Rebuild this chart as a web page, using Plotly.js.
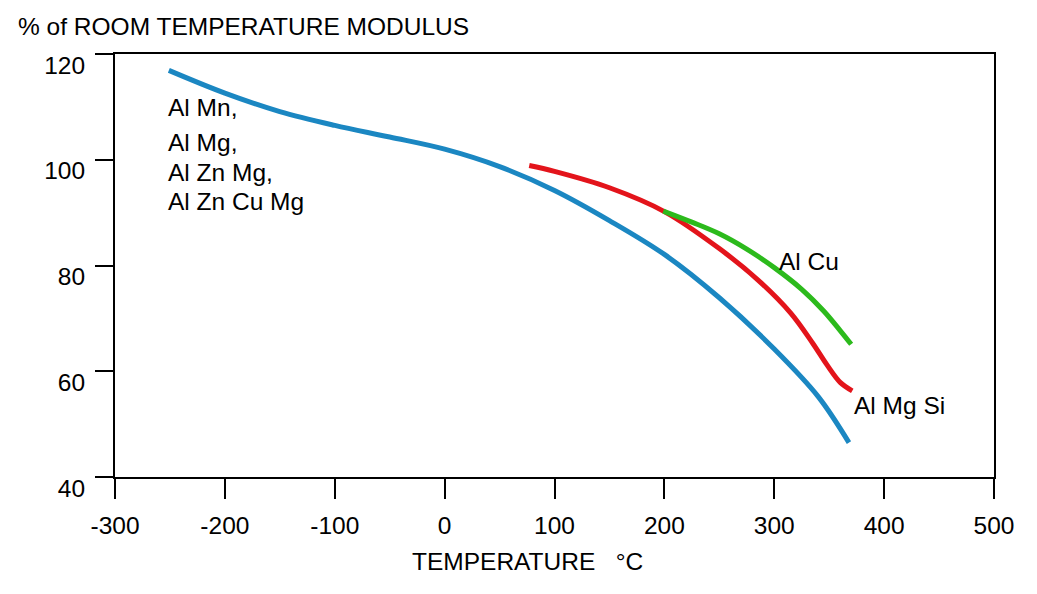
<!DOCTYPE html>
<html>
<head>
<meta charset="utf-8">
<script src="https://cdn.plot.ly/plotly-3.0.1.min.js"></script>
<style>html,body{margin:0;padding:0;background:#fff;}#chart{width:1037px;height:594px;}</style>
</head>
<body>
<div id="chart"></div>
<script>
// Data
var blueTemp = [-251, -200, -150, -100, -50, 0, 50, 100, 150, 200, 250, 300, 340, 368];
var blueModulus = [116.9, 112.6, 109.1, 106.5, 104.3, 102.0, 98.7, 94.2, 88.5, 82.1, 73.9, 64.2, 55.2, 46.5];

var redTemp = [77, 100, 150, 200, 250, 285, 315, 335, 348, 360, 371];
var redModulus = [98.9, 97.8, 94.7, 90.2, 83.2, 77.3, 71.0, 65.3, 61.2, 57.9, 56.3];

var greenTemp = [199, 225, 250, 275, 300, 325, 345, 360, 370];
var greenModulus = [90.3, 88.2, 86.0, 83.1, 79.6, 75.5, 71.4, 67.7, 65.1];

var xTicks = [-300, -200, -100, 0, 100, 200, 300, 400, 500];
var yTicks = [40, 60, 80, 100, 120];

var blueLabels = ["Al Mn,", "Al Mg,", "Al Zn Mg,", "Al Zn Cu Mg"];
var blueLabelY = [109.9, 103.3, 97.6, 92.1];

var FONT = "Liberation Sans, Arial, sans-serif";
var FS = 24.5;

var traces = [
  {x: blueTemp, y: blueModulus, mode: "lines", line: {color: "#1b87c2", width: 5, shape: "spline", smoothing: 1}, hoverinfo: "skip"},
  {x: redTemp, y: redModulus, mode: "lines", line: {color: "#e3141b", width: 5, shape: "spline", smoothing: 1}, hoverinfo: "skip"},
  {x: greenTemp, y: greenModulus, mode: "lines", line: {color: "#2cba1c", width: 5, shape: "spline", smoothing: 1}, hoverinfo: "skip"}
];

var annotations = [];
blueLabels.forEach(function (t, i) {
  annotations.push({x: -253.2, y: blueLabelY[i], xref: "x", yref: "y", text: t, showarrow: false,
    xanchor: "left", yanchor: "middle", font: {family: FONT, size: FS, color: "#000"}});
});
annotations.push({x: 302.9, y: 80.8, xref: "x", yref: "y", text: "Al Cu", showarrow: false,
  xanchor: "left", yanchor: "middle", font: {family: FONT, size: FS, color: "#000"}});
annotations.push({x: 371, y: 53.6, xref: "x", yref: "y", text: "Al Mg Si", showarrow: false,
  xanchor: "left", yanchor: "middle", font: {family: FONT, size: FS, color: "#000"}});
annotations.push({x: -0.113, y: 1.066, xref: "paper", yref: "paper", text: "% of ROOM TEMPERATURE MODULUS",
  showarrow: false, xanchor: "left", yanchor: "middle", font: {family: FONT, size: FS, color: "#000"}});
annotations.push({x: 0.336, y: -0.2, xref: "paper", yref: "paper", text: "TEMPERATURE   °C",
  showarrow: false, xanchor: "left", yanchor: "middle", font: {family: FONT, size: FS, color: "#000"}});

var layout = {
  width: 1037, height: 594,
  margin: {l: 115, r: 43, t: 54, b: 117, pad: 0},
  paper_bgcolor: "#fff", plot_bgcolor: "#fff",
  showlegend: false,
  font: {family: FONT, size: FS, color: "#000"},
  xaxis: {
    range: [-300, 500], tickmode: "array", tickvals: xTicks, ticktext: xTicks.map(String),
    ticks: "outside", ticklen: 20, tickwidth: 2, tickcolor: "#000",
    showline: true, linecolor: "#000", linewidth: 2, mirror: true,
    showgrid: false, zeroline: false, fixedrange: true,
    tickfont: {family: FONT, size: FS, color: "#000"}, ticklabelstandoff: 6
  },
  yaxis: {
    range: [40, 120], tickmode: "array", tickvals: yTicks, ticktext: yTicks.map(String),
    ticks: "outside", ticklen: 18, tickwidth: 2, tickcolor: "#000",
    showline: true, linecolor: "#000", linewidth: 2, mirror: true,
    showgrid: false, zeroline: false, fixedrange: true,
    tickfont: {family: FONT, size: FS, color: "#000"}, ticklabelstandoff: 5, ticklabelshift: 11
  },
  annotations: annotations
};

Plotly.newPlot("chart", traces, layout, {staticPlot: true, displayModeBar: false});
</script>
</body>
</html>
